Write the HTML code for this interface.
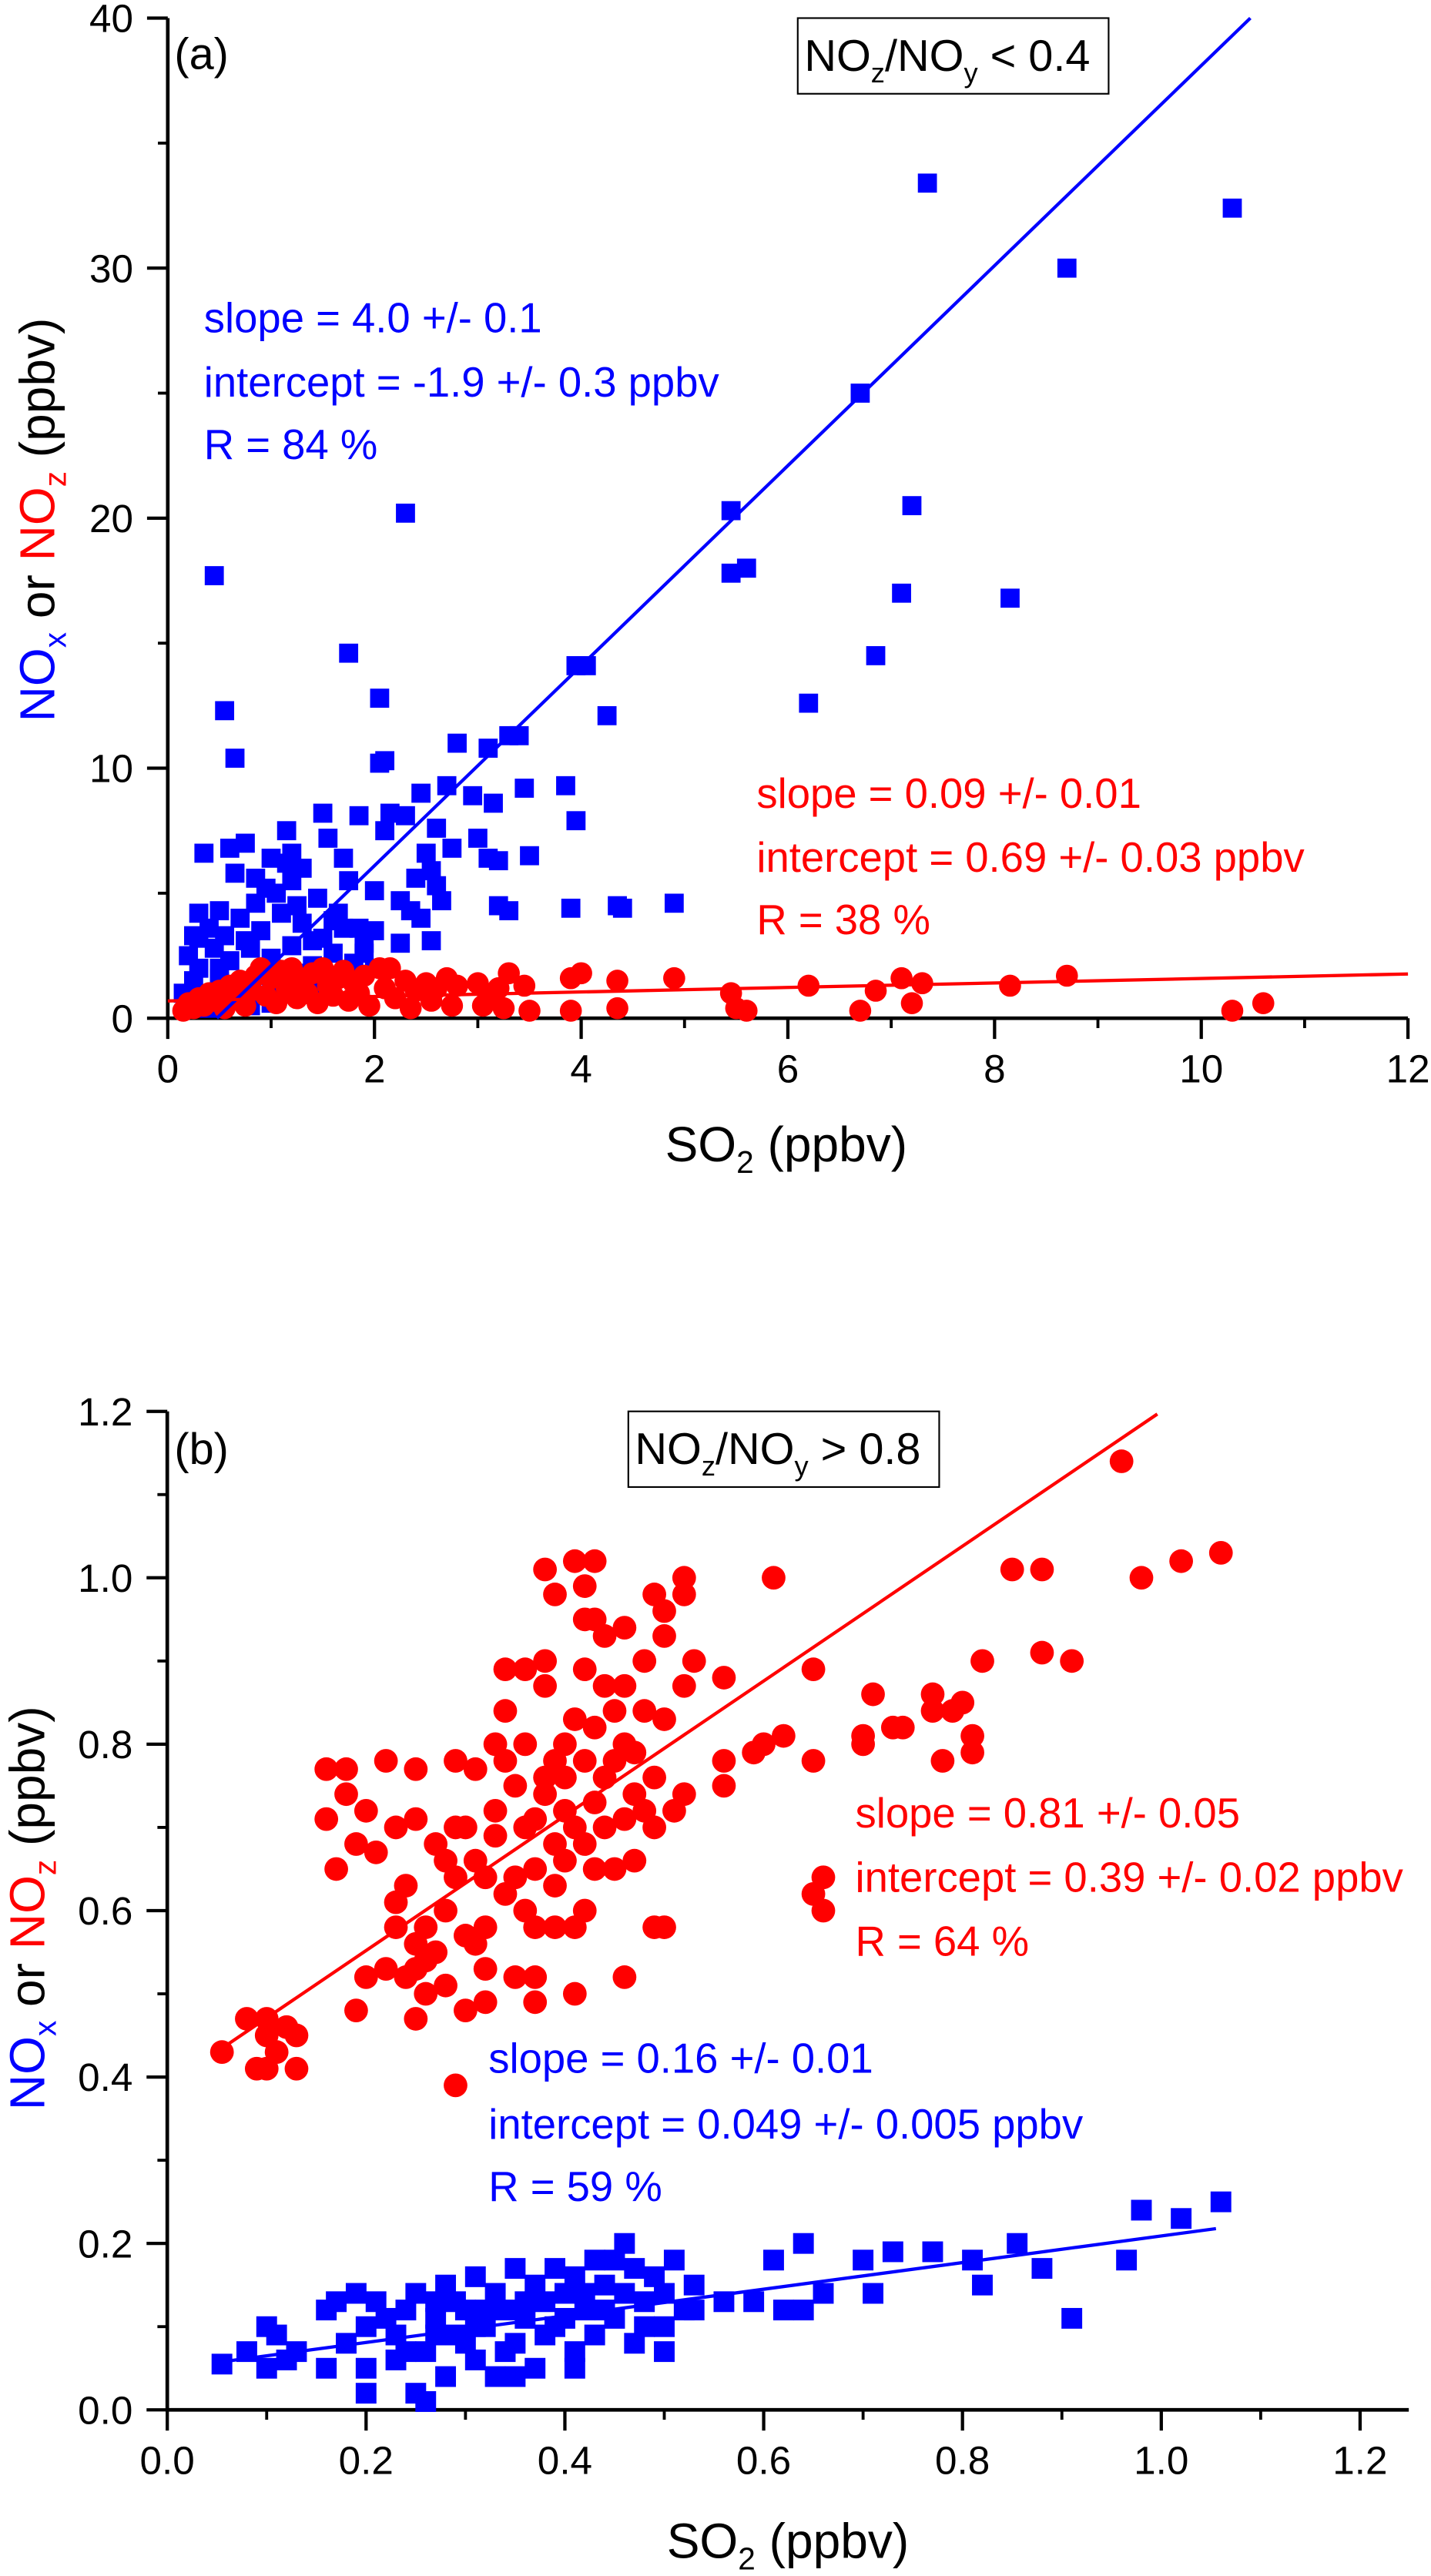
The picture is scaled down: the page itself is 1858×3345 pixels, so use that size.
<!DOCTYPE html>
<html><head><meta charset="utf-8"><style>
html,body{margin:0;padding:0;background:#fff}
svg{display:block}
text{font-family:"Liberation Sans",Arial,sans-serif}
</style></head><body>
<svg id="chart" width="1858" height="3345" viewBox="0 0 870 1566" preserveAspectRatio="none" xmlns="http://www.w3.org/2000/svg">
<g id="pa"></g>
<g id="pb"></g>
<g>
<text x="106" y="42" font-size="27">(a)</text>
<rect x="485" y="11" width="189" height="46" fill="#fff" stroke="#000" stroke-width="1"/>
<text x="489" y="43" font-size="27">NO<tspan font-size="17" dy="7">z</tspan><tspan dy="-7">/NO</tspan><tspan font-size="17" dy="7">y</tspan><tspan dy="-7"> &lt; 0.4</tspan></text>
<g fill="#0000ff" font-size="25.5">
<text x="124" y="202">slope = 4.0 +/- 0.1</text>
<text x="124" y="241">intercept = -1.9 +/- 0.3 ppbv</text>
<text x="124" y="279">R = 84 %</text></g>
<g fill="#ff0000" font-size="25.5">
<text x="460" y="491">slope = 0.09 +/- 0.01</text>
<text x="460" y="530">intercept = 0.69 +/- 0.03 ppbv</text>
<text x="460" y="568">R = 38 %</text></g>
<text x="478" y="706" font-size="30" text-anchor="middle">SO<tspan font-size="19" dy="7">2</tspan><tspan dy="-7"> (ppbv)</tspan></text>
<text transform="translate(33,316) rotate(-90)" font-size="30" text-anchor="middle"><tspan fill="#0000ff">NO</tspan><tspan fill="#0000ff" font-size="19" dy="7">x</tspan><tspan dy="-7"> or </tspan><tspan fill="#ff0000">NO</tspan><tspan fill="#ff0000" font-size="19" dy="7">z</tspan><tspan dy="-7"> (ppbv)</tspan></text>
</g>
<g>
<text x="106" y="890" font-size="27">(b)</text>
<rect x="382" y="858" width="189" height="46" fill="#fff" stroke="#000" stroke-width="1"/>
<text x="386" y="890" font-size="27">NO<tspan font-size="17" dy="7">z</tspan><tspan dy="-7">/NO</tspan><tspan font-size="17" dy="7">y</tspan><tspan dy="-7"> &gt; 0.8</tspan></text>
<g fill="#ff0000" font-size="25.5">
<text x="520" y="1111">slope = 0.81 +/- 0.05</text>
<text x="520" y="1150">intercept = 0.39 +/- 0.02 ppbv</text>
<text x="520" y="1189">R = 64 %</text></g>
<g fill="#0000ff" font-size="25.5">
<text x="297" y="1260">slope = 0.16 +/- 0.01</text>
<text x="297" y="1300">intercept = 0.049 +/- 0.005 ppbv</text>
<text x="297" y="1338">R = 59 %</text></g>
<text x="479" y="1555" font-size="30" text-anchor="middle">SO<tspan font-size="19" dy="7">2</tspan><tspan dy="-7"> (ppbv)</tspan></text>
<text transform="translate(27,1160) rotate(-90)" font-size="30" text-anchor="middle"><tspan fill="#0000ff">NO</tspan><tspan fill="#0000ff" font-size="19" dy="7">x</tspan><tspan dy="-7"> or </tspan><tspan fill="#ff0000">NO</tspan><tspan fill="#ff0000" font-size="19" dy="7">z</tspan><tspan dy="-7"> (ppbv)</tspan></text>
</g>
</svg>
<script>
// ---------- Panel (a) data ----------
const aXTicks = [0,2,4,6,8,10,12];
const aYTicks = [0,10,20,30,40];
const aBlue = [[0.45,17.7],[0.55,12.3],[0.65,10.4],[2.3,20.2],[1.75,14.6],[2.05,12.8],[2.05,10.2],[2.1,10.3],[2.8,11],[3.1,10.8],[3.3,11.3],[3.4,11.3],[3.95,14.1],[4.05,14.1],[4.25,12.1],[5.45,20.3],[5.45,17.8],[5.6,18],[6.2,12.6],[6.7,25],[6.85,14.5],[7.1,17],[7.2,20.5],[7.35,33.4],[8.15,16.8],[8.7,30],[10.3,32.4],[4.9,4.6],[4.35,4.5],[4.4,4.4],[3.9,4.4],[3.85,9.3],[3.95,7.9],[3.5,6.5],[3.2,6.3],[3.1,6.4],[3.2,4.5],[3.3,4.3],[3.45,9.2],[3.15,8.6],[2.95,8.9],[3.0,7.2],[2.7,9.3],[2.75,6.8],[2.6,7.6],[2.5,6.6],[2.45,9],[2.1,7.5],[2.15,8.2],[2.3,8.1],[1.85,8.1],[1.5,8.2],[1.55,7.2],[1.15,7.5],[1.2,6.6],[1.0,6.4],[0.75,7.0],[0.6,6.8],[0.35,6.6],[0.65,5.8],[0.85,5.6],[1.2,5.5],[1.75,5.5],[1.7,6.4],[2.0,5.1],[2.4,5.6],[2.6,5.3],[2.65,4.7],[2.25,4.7],[2.25,3.0],[2.55,3.1],[0.3,4.2],[0.4,3.6],[0.5,4.3],[0.7,4.0],[0.9,3.5],[1.1,4.2],[1.3,3.8],[1.5,3.2],[1.7,3.6],[1.9,3.0],[2.0,3.5],[0.2,2.5],[0.3,2.0],[0.45,2.8],[0.6,2.3],[0.8,2.8],[1.0,2.4],[1.2,2.9],[1.4,2.1],[1.6,2.6],[1.8,2.2],[2.0,2.0],[0.15,1.0],[0.25,1.5],[0.35,0.9],[0.5,1.6],[0.7,1.2],[0.9,1.7],[1.1,1.3],[1.3,1.8],[1.5,1.4],[0.2,0.5],[0.4,0.4],[0.6,0.7],[0.8,0.5],[1.0,0.6],[0.3,3.2],[0.55,3.3],[0.85,4.6],[1.05,5.0],[1.25,4.5],[1.45,4.8],[1.65,4.2],[2.35,4.3],[2.55,5.9],[2.45,4.0],[1.4,3.1],[0.95,5.2],[1.15,6.2],[1.3,6.0],[1.6,3.9],[1.85,3.6],[0.25,3.3],[0.5,2.0],[0.75,3.1],[1.9,2.6]];
const aRed = [[0.15,0.3],[0.2,0.6],[0.25,0.4],[0.3,0.8],[0.35,0.5],[0.4,1.0],[0.45,0.7],[0.5,1.1],[0.55,0.4],[0.6,1.3],[0.65,0.8],[0.7,1.5],[0.75,0.5],[0.8,1.2],[0.85,1.7],[0.9,2.0],[0.95,0.9],[1.0,1.6],[1.05,0.6],[1.1,1.9],[1.15,1.2],[1.2,2.0],[1.25,0.8],[1.3,1.5],[1.35,1.0],[1.4,1.8],[1.45,0.6],[1.5,2.0],[1.55,1.3],[1.6,0.9],[1.65,1.6],[1.7,1.9],[1.75,0.7],[1.8,1.4],[1.85,1.0],[1.9,1.7],[1.95,0.5],[2.05,2.0],[2.1,1.2],[2.15,2.0],[2.2,0.8],[2.3,1.5],[2.35,0.4],[2.4,1.1],[2.5,1.4],[2.55,0.7],[2.6,1.2],[2.7,1.6],[2.75,0.5],[2.8,1.3],[3.0,1.4],[3.05,0.5],[3.1,0.9],[3.2,1.2],[3.25,0.4],[3.3,1.8],[3.45,1.3],[3.5,0.3],[3.9,1.6],[4.0,1.8],[3.9,0.3],[4.35,0.4],[4.35,1.5],[4.9,1.6],[5.45,1.0],[5.5,0.4],[5.6,0.3],[6.2,1.3],[6.7,0.3],[6.85,1.1],[7.1,1.6],[7.2,0.6],[7.3,1.4],[8.15,1.3],[8.7,1.7],[10.3,0.3],[10.6,0.6]];
const aBlueFit = [4.0,-1.9];
const aRedFit = [0.09,0.69];
// ---------- Panel (b) data ----------
const bXTicks = [0.0,0.2,0.4,0.6,0.8,1.0,1.2];
const bYTicks = [0.0,0.2,0.4,0.6,0.8,1.0,1.2];
const bRed = [[0.055,0.43],[0.08,0.47],[0.10,0.47],[0.10,0.45],[0.09,0.41],[0.10,0.41],[0.12,0.46],[0.13,0.45],[0.13,0.41],[0.11,0.43],[0.29,0.39],
[0.16,0.77],[0.18,0.77],[0.18,0.74],[0.16,0.71],[0.20,0.72],[0.19,0.68],[0.17,0.65],[0.22,0.78],[0.25,0.77],[0.21,0.67],[0.23,0.70],[0.25,0.71],[0.23,0.61],[0.24,0.63],[0.23,0.58],[0.25,0.56],[0.25,0.53],[0.26,0.50],[0.25,0.47],[0.20,0.52],[0.19,0.48],[0.22,0.53],[0.27,0.68],[0.29,0.78],[0.31,0.77],[0.30,0.70],[0.30,0.57],[0.32,0.58],[0.30,0.48],[0.32,0.49],[0.32,0.53],[0.34,0.84],[0.34,0.89],[0.36,0.89],[0.33,0.80],[0.34,0.78],[0.33,0.69],[0.35,0.64],[0.35,0.52],[0.37,0.49],[0.37,0.52],[0.37,0.58],[0.39,0.58],[0.41,0.58],[0.41,0.50],[0.38,1.01],[0.39,0.98],[0.41,1.02],[0.43,1.02],[0.42,0.99],[0.42,0.95],[0.43,0.95],[0.38,0.90],[0.38,0.87],[0.42,0.89],[0.44,0.93],[0.46,0.94],[0.44,0.87],[0.46,0.87],[0.48,0.90],[0.49,0.98],[0.50,0.96],[0.50,0.93],[0.52,1.00],[0.52,0.98],[0.53,0.90],[0.56,0.88],[0.52,0.87],[0.50,0.83],[0.41,0.83],[0.39,0.78],[0.42,0.78],[0.45,0.78],[0.47,0.79],[0.49,0.76],[0.52,0.74],[0.56,0.75],[0.56,0.78],[0.51,0.72],[0.49,0.70],[0.47,0.66],[0.45,0.65],[0.43,0.65],[0.42,0.60],[0.39,0.63],[0.37,0.65],[0.36,0.70],[0.38,0.74],[0.40,0.72],[0.43,0.73],[0.46,0.71],[0.42,0.68],[0.39,0.68],[0.46,0.52],[0.49,0.58],[0.50,0.58],[0.29,0.64],[0.28,0.60],[0.26,0.54],[0.28,0.51],[0.27,0.55],
[0.31,0.66],[0.32,0.64],[0.33,0.72],[0.35,0.75],[0.36,0.60],[0.38,0.76],[0.40,0.80],[0.41,0.70],[0.43,0.82],[0.44,0.76],[0.45,0.84],[0.47,0.74],[0.48,0.84],[0.44,0.70],[0.40,0.66],[0.37,0.71],[0.34,0.62],[0.31,0.56],[0.28,0.66],[0.26,0.58],[0.24,0.52],[0.29,0.70],[0.36,0.80],[0.40,0.76],[0.46,0.80],[0.48,0.72],
[0.59,0.79],[0.60,0.80],[0.62,0.81],[0.65,0.89],[0.65,0.78],[0.61,1.0],[0.70,0.81],[0.70,0.80],[0.71,0.86],[0.73,0.82],[0.74,0.82],[0.77,0.86],[0.77,0.84],[0.79,0.84],[0.80,0.85],[0.81,0.81],[0.81,0.79],[0.78,0.78],[0.82,0.90],[0.85,1.01],[0.88,1.01],[0.88,0.91],[0.91,0.90],[0.96,1.14],[0.98,1.0],[1.02,1.02],[1.06,1.03],[0.66,0.64],[0.65,0.62],[0.66,0.60]];
const bBlue = [[1.06,0.25],[0.98,0.24],[1.02,0.23],[0.965,0.18],[0.91,0.11],[0.88,0.17],[0.855,0.2],[0.82,0.15],[0.81,0.18],[0.77,0.19],[0.73,0.19],[0.71,0.14],[0.70,0.18],[0.64,0.2],[0.61,0.18],[0.62,0.12],[0.64,0.12],[0.66,0.14],[0.59,0.13],[0.56,0.13],[0.53,0.12],[0.46,0.2],[0.41,0.05],
[0.055,0.055],[0.08,0.07],[0.1,0.05],[0.1,0.1],[0.12,0.06],[0.11,0.09],[0.13,0.07],[0.16,0.12],[0.17,0.13],[0.16,0.05],[0.18,0.08],[0.19,0.14],[0.2,0.05],[0.2,0.02],[0.21,0.13],[0.22,0.11],[0.23,0.09],[0.24,0.12],[0.25,0.02],[0.25,0.14],[0.26,0.07],[0.26,0.01],[0.27,0.11],[0.28,0.04],[0.28,0.15],[0.29,0.09],[0.3,0.12],[0.31,0.06],[0.31,0.16],[0.32,0.1],[0.33,0.14],[0.33,0.04],[0.34,0.12],[0.35,0.08],[0.35,0.17],[0.36,0.11],[0.37,0.15],[0.37,0.05],[0.38,0.13],[0.39,0.1],[0.39,0.17],[0.4,0.14],[0.41,0.07],[0.41,0.16],[0.42,0.12],[0.43,0.18],[0.43,0.09],[0.44,0.15],[0.45,0.11],[0.45,0.18],[0.46,0.14],[0.47,0.08],[0.47,0.17],[0.48,0.13],[0.49,0.16],[0.5,0.1],[0.5,0.14],[0.51,0.18],[0.52,0.12],[0.53,0.15],[0.35,0.04],[0.3,0.08],[0.27,0.13],[0.23,0.06],[0.2,0.1],[0.29,0.13],[0.32,0.12],[0.36,0.13],[0.4,0.11],[0.44,0.12],[0.48,0.1],[0.5,0.07],[0.42,0.14],[0.38,0.09],[0.34,0.07],[0.31,0.1],[0.27,0.09],[0.24,0.07]];
const bRedFit = [0.81,0.39,0.055,0.996];
const bBlueFit = [0.16,0.049,0.06,1.055];

const NS='http://www.w3.org/2000/svg';
function mk(tag,attrs,parent){const e=document.createElementNS(NS,tag);for(const k in attrs)e.setAttribute(k,attrs[k]);parent.appendChild(e);return e;}

function drawPanel(g,cfg){
  const L=cfg.L,R=cfg.R,T=cfg.top,B=cfg.bottom;
  const sx=v=>L+(v-cfg.x0)/(cfg.x1-cfg.x0)*(R-L);
  const sy=v=>B-(v-cfg.y0)/(cfg.y1-cfg.y0)*(B-T);
  cfg.xTicks.forEach((t,i)=>{
    const x=sx(t);
    const tk=mk('line',{x1:x,x2:x,y1:B,y2:B+12.6,stroke:'#000','stroke-width':2},g);
    
    
    const xmv=(i<cfg.xTicks.length-1)?(t+cfg.xTicks[i+1])/2:null;
    if(xmv!==null){const xm=sx(xmv);
      const mt=mk('line',{x1:xm,x2:xm,y1:B,y2:B+6,stroke:'#000','stroke-width':1.8},g);
      
      }
    const lb=mk('text',{x:x,y:B+39,'font-size':24,'text-anchor':'middle'},g);
    lb.textContent=cfg.xfmt(t);
    
    
  });
  cfg.yTicks.forEach((t,i)=>{
    const y=sy(t);
    const tk=mk('line',{x1:L-12.6,x2:L,y1:y,y2:y,stroke:'#000','stroke-width':2},g);
    
    
    if(i<cfg.yTicks.length-1){const ym=sy((t+cfg.yTicks[i+1])/2);
      const mt=mk('line',{x1:L-6,x2:L,y1:ym,y2:ym,stroke:'#000','stroke-width':1.8},g);
      
      }
    const lb=mk('text',{x:L-21,y:y+8.5,'font-size':24,'text-anchor':'end'},g);
    lb.textContent=cfg.yfmt(t);
    
    
  });
  const ax=mk('path',{d:`M${L},${T}V${B}H${R}`,stroke:'#000','stroke-width':2.2,fill:'none'},g);
  
  
  const drawRed=()=>cfg.red.forEach(p=>{
    const c=mk('circle',{cx:sx(p[0]),cy:sy(p[1]),r:cfg.r,fill:'#ff0000'},g);
    
    
  });
  const drawBlue=()=>cfg.blue.forEach(p=>{
    const s=mk('rect',{x:sx(p[0])-cfg.sq/2,y:sy(p[1])-cfg.sq/2,width:cfg.sq,height:cfg.sq,fill:'#0000ff'},g);
    
    
  });
  if(cfg.redOnTop){drawBlue();drawRed();}else{drawRed();drawBlue();}
  cfg.fits.forEach(f=>{
    const [m,b,xa,xb,col]=f;
    const ln=mk('line',{x1:sx(xa),y1:sy(m*xa+b),x2:sx(xb),y2:sy(m*xb+b),stroke:col,'stroke-width':2},g);
    
    
  });
}
drawPanel(document.getElementById('pa'),{L:102,R:856,top:11,bottom:619,x0:0,x1:12,y0:0,y1:40,xTicks:aXTicks,yTicks:aYTicks,r:6.7,sq:11.6,redOnTop:true,
  xfmt:t=>String(t),yfmt:t=>String(t),red:aRed,blue:aBlue,
  fits:[[aBlueFit[0],aBlueFit[1],-aBlueFit[1]/aBlueFit[0],(40-aBlueFit[1])/aBlueFit[0],'#0000ff'],[aRedFit[0],aRedFit[1],0,12,'#ff0000']]});
drawPanel(document.getElementById('pb'),{L:101.7,R:856.5,top:858,bottom:1465,x0:0,x1:1.249,y0:0,y1:1.2,xTicks:bXTicks,yTicks:bYTicks,r:7.2,sq:12.6,redOnTop:false,
  xfmt:t=>t.toFixed(1),yfmt:t=>t.toFixed(1),red:bRed,blue:bBlue,
  fits:[[bRedFit[0],bRedFit[1],bRedFit[2],bRedFit[3],'#ff0000'],[bBlueFit[0],bBlueFit[1],bBlueFit[2],bBlueFit[3],'#0000ff']]});
</script>
</body></html>
